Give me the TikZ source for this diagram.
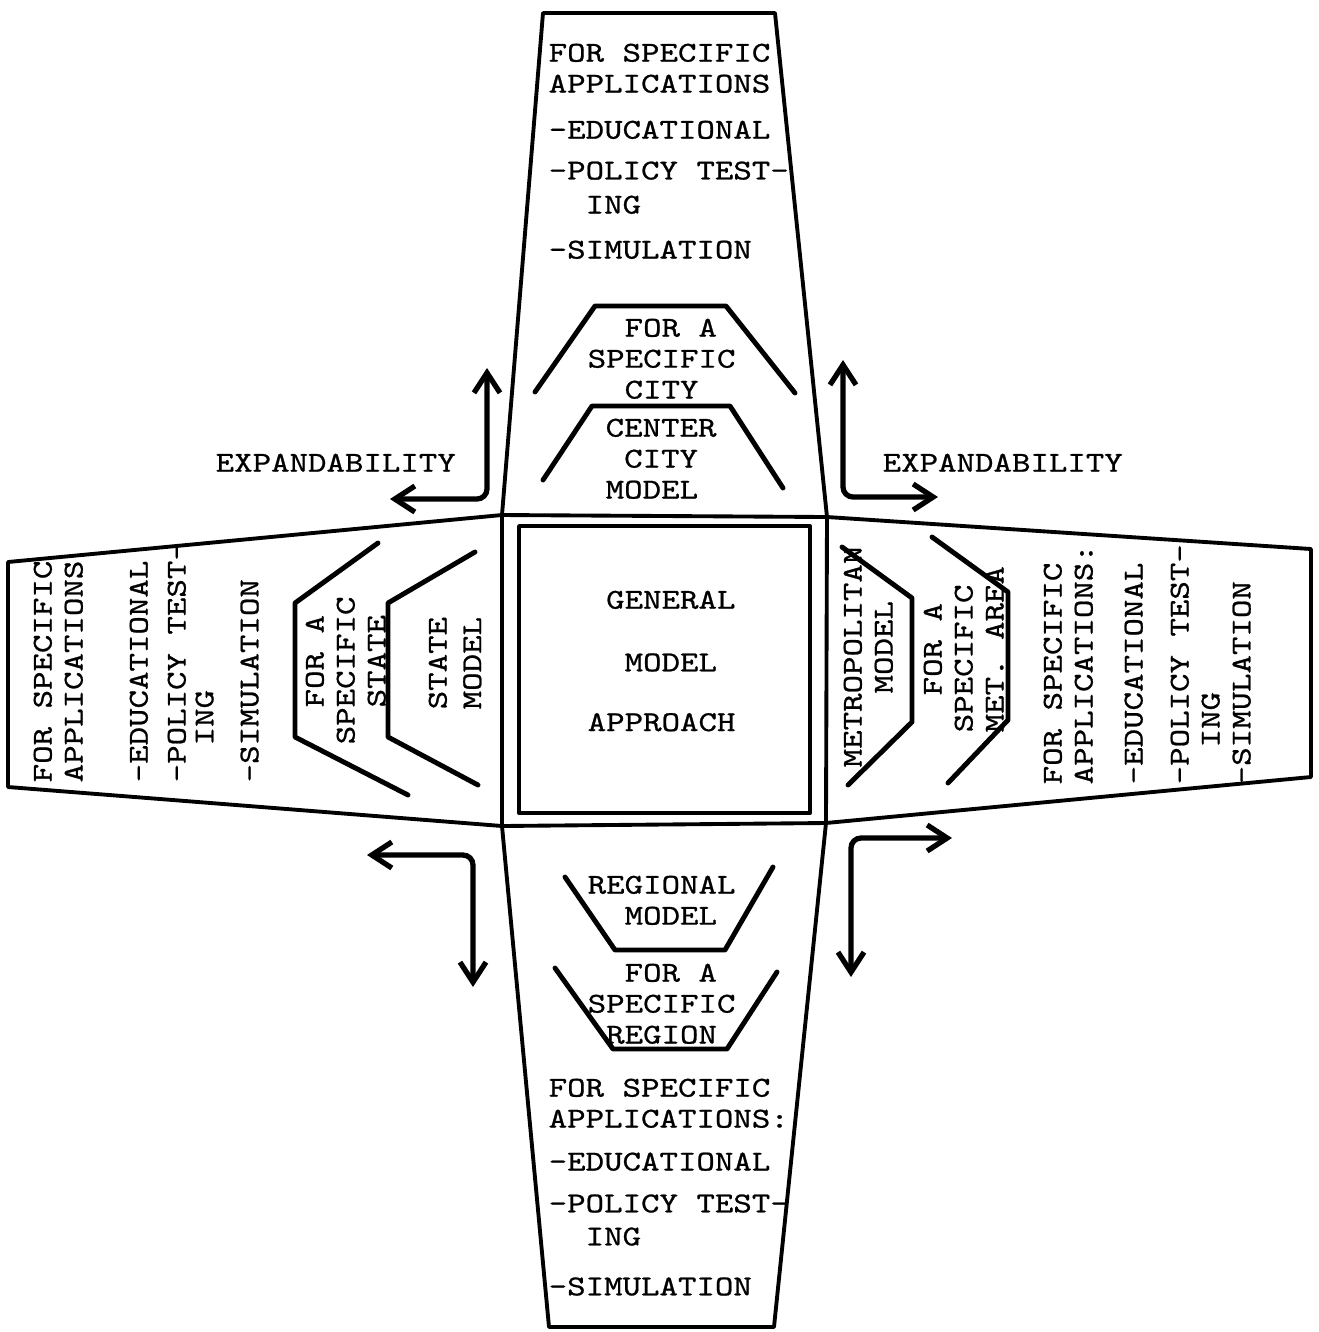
\documentclass[tikz,border=0pt]{standalone}
\usepackage{fontspec}
\usepackage{tikz}
\usetikzlibrary{arrows.meta}
\newfontfamily\typer{lmmono10-regular.otf}[FakeStretch=1.22,FakeBold=0.8]

\tikzset{
  txt/.style={font=\typer\fontsize{8.2}{8.8}\selectfont, inner sep=0pt, align=left, anchor=north west},
  vtxt/.style={txt, rotate=90},
  rim/.style={line width=1.1pt, line join=round},
  cup/.style={line width=1.4pt, line cap=round, line join=round},
  expand/.style={line width=1.5pt, rounded corners=1mm, >={Straight Barb[length=2mm,width=2.6mm]}, <->},
}

\begin{document}
\begin{tikzpicture}[x=0.01cm, y=-0.01cm]
    \fill[white] (0,0) rectangle (1319,1332);

    % centre block
    \coordinate (tl) at (502,515);
    \coordinate (tr) at (827,517);
    \coordinate (br) at (826,823);
    \coordinate (bl) at (502,826);
    \draw[rim] (tl) -- (tr) -- (br) -- (bl) -- cycle;
    \draw[rim] (519,526) rectangle (810,813);
    \node[txt] (general) at (587,590) {\phantom{X}GENERAL\\[9pt]\phantom{XX}MODEL\\[8.2pt]APPROACH};

    % the four arms
    \draw[rim] (tl) -- (543,13) -- (775,13) -- (tr);
    \draw[rim] (tl) -- (8,562) -- (8,787) -- (bl);
    \draw[rim] (tr) -- (1311,549) -- (1311,777) -- (br);
    \draw[rim] (bl) -- (549,1327) -- (774,1327) -- (br);

    % top
    \draw[cup] (535,392) -- (595,306) -- (726,306) -- (795,393);
    \draw[cup] (543,480) -- (592,406) -- (730,406) -- (783,488);
    \node[txt] (topapps) at (548,43) {FOR SPECIFIC\\APPLICATIONS\\[4.3pt]-EDUCATIONAL\\[2.8pt]-POLICY TEST-\\[0.9pt]\phantom{XX}ING\\[4pt]-SIMULATION};
    \node[txt] (topcity) at (587,318) {\phantom{XX}FOR A\\SPECIFIC\\\phantom{XX}CITY};
    \node[txt] (topcentre) at (605,418) {CENTER\\\phantom{X}CITY\\MODEL};

    % left
    \draw[cup] (378,543) -- (295,603) -- (295,737) -- (408,795);
    \draw[cup] (475,552) -- (388,603) -- (388,737) -- (478,785);
    \node[vtxt] (leftapps) at (33,783) {FOR SPECIFIC\\APPLICATIONS\\[9.7pt]-EDUCATIONAL\\[2pt]-POLICY TEST-\\[-0.9pt]\phantom{XX}ING\\[4pt]-SIMULATION};
    \node[vtxt] (leftstate) at (305,745) {\phantom{XX}FOR A\\SPECIFIC\\\phantom{XX}STATE};
    \node[vtxt] (leftmodel) at (428,710) {STATE\\[1pt]MODEL};

    % right
    \draw[cup] (842,547) -- (912,598) -- (912,722) -- (848,785);
    \draw[cup] (932,537) -- (1008,592) -- (1008,720) -- (948,783);
    \node[vtxt] (rightmetro) at (843,768) {METROPOLITAN\\\phantom{XXXX}MODEL};
    \node[vtxt] (rightarea) at (923,733) {\phantom{XX}FOR A\\SPECIFIC\\MET. AREA};
    \node[vtxt] (rightapps) at (1043,785) {FOR SPECIFIC\\APPLICATIONS:\\[5.4pt]-EDUCATIONAL\\[4.3pt]-POLICY TEST-\\\phantom{XX}ING\\-SIMULATION};

    % bottom
    \draw[cup] (565,877) -- (615,950) -- (725,950) -- (773,867);
    \draw[cup] (555,968) -- (613,1049) -- (727,1049) -- (777,972);
    \node[txt] (botregional) at (587,875) {REGIONAL\\\phantom{XX}MODEL};
    \node[txt] (botregion) at (587,963) {\phantom{XX}FOR A\\SPECIFIC\\\phantom{X}REGION};
    \node[txt] (botapps) at (548,1078) {FOR SPECIFIC\\APPLICATIONS:\\[3.4pt]-EDUCATIONAL\\[3.1pt]-POLICY TEST-\\[0.6pt]\phantom{XX}ING\\[5.4pt]-SIMULATION};

    % expandability
    \node[txt] (expleft) at (215,453) {EXPANDABILITY};
    \node[txt] (expright) at (882,453) {EXPANDABILITY};
    \coordinate (nwup) at (487,368);
    \coordinate (nwside) at (390,499);
    \coordinate (neup) at (843,360);
    \coordinate (neside) at (938,497);
    \coordinate (swside) at (367,855);
    \coordinate (swdown) at (473,987);
    \coordinate (seside) at (952,838);
    \coordinate (sedown) at (851,977);
    \draw[expand] (nwup) |- (nwside);
    \draw[expand] (neup) |- (neside);
    \draw[expand] (swside) -| (swdown);
    \draw[expand] (seside) -| (sedown);
\end{tikzpicture}
\end{document}
